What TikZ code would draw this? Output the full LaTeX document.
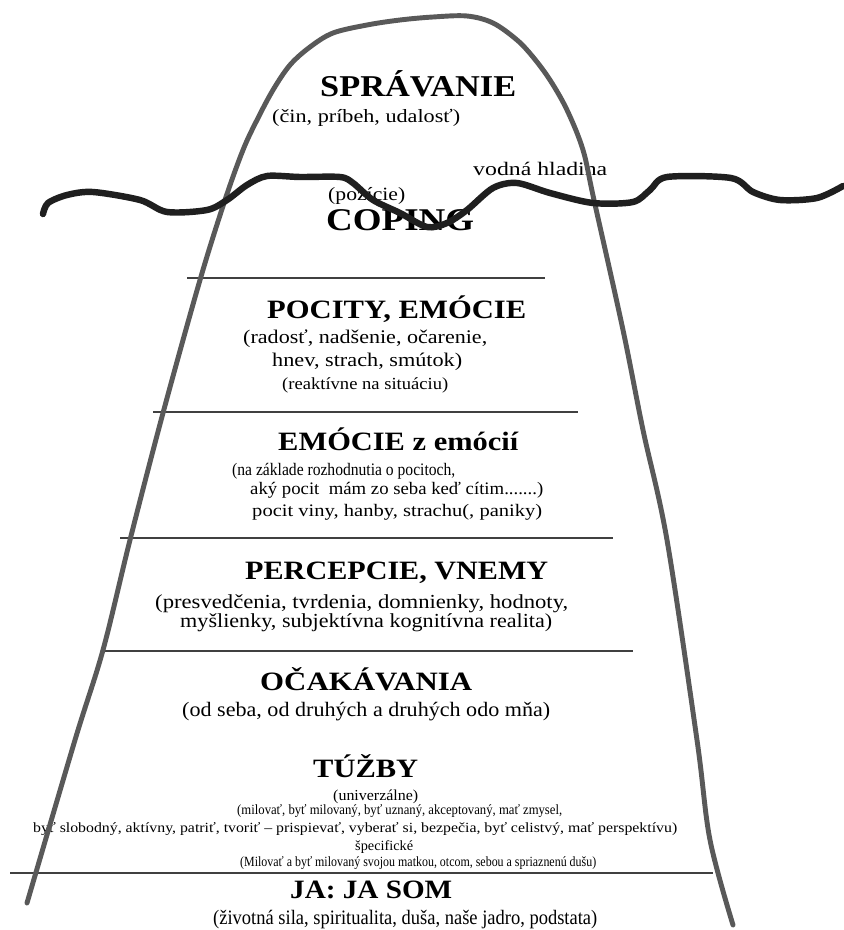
\documentclass[tikz,border=0pt]{standalone}
\usepackage{fontspec}
\setmainfont{Liberation Serif}
\usepackage{graphicx}
\newlength\pxu
\setlength\pxu{0.03cm}
% text natiahnuty na danu sirku (v px)
\newcommand{\fitw}[2]{\resizebox{#1\pxu}{\height}{#2}}

\begin{document}
\begin{tikzpicture}[x=0.03cm, y=-0.03cm,
    nadpis/.style={anchor=base west, inner sep=0pt, font=\bfseries\fontsize{22.6}{26}\selectfont},
    popis/.style={anchor=base west, inner sep=0pt, font=\fontsize{16.5}{19}\selectfont},
    drobne/.style={anchor=base west, inner sep=0pt, font=\fontsize{12}{14}\selectfont},
    vrstva/.style={line width=1.4pt, draw=black!75},
    ladovec/.style={line width=4.2pt, draw=black!65, line join=round, line cap=round},
    voda/.style={line width=5.5pt, draw=black!88, line join=round, line cap=round}]
    \fill[white] (0,0) rectangle (843,930);
    \useasboundingbox (0,0) rectangle (843,930);

    % Nad hladinou
    \node[nadpis, font=\bfseries\fontsize{25.8}{30}\selectfont] (sprav) at (320,97) {\fitw{196}{SPRÁVANIE}};
    \node[popis, font=\fontsize{16}{19}\selectfont] (sprav1) at (272,122.5) {\fitw{188}{(čin, príbeh, udalosť)}};
    \node[popis, font=\fontsize{16.3}{19}\selectfont] (hladina) at (473,175) {\fitw{134}{vodná hladina}};
    \node[popis, font=\fontsize{16}{19}\selectfont] (pozicie) at (328,200) {\fitw{77}{(pozície)}};
    \node[nadpis, font=\bfseries\fontsize{27}{31}\selectfont] (coping) at (326,230) {\fitw{148}{COPING}};

    % Pocity
    \node[nadpis] (pocity) at (267,318) {\fitw{259}{POCITY, EMÓCIE}};
    \node[popis] (pocity1) at (243,343.5) {\fitw{244}{(radosť, nadšenie, očarenie,}};
    \node[popis] (pocity2) at (272,366) {\fitw{190}{hnev, strach, smútok)}};
    \node[popis, font=\fontsize{14.5}{17}\selectfont] (pocity3) at (282,389) {\fitw{166}{(reaktívne na situáciu)}};

    % Emocie z emocii
    \node[nadpis] (emzem) at (278,450) {\fitw{240}{EMÓCIE z emócií}};
    \node[popis, font=\fontsize{15}{18}\selectfont] (emzem1) at (232,475) {\fitw{223}{(na základe rozhodnutia o pocitoch,}};
    \node[popis, font=\fontsize{15}{18}\selectfont] (emzem2) at (250,494) {\fitw{293}{aký pocit~~mám zo seba keď cítim.......)}};
    \node[popis, font=\fontsize{15}{18}\selectfont] (emzem3) at (252,516) {\fitw{290}{pocit viny, hanby, strachu(, paniky)}};

    % Percepcie
    \node[nadpis] (percep) at (245,579) {\fitw{303}{PERCEPCIE, VNEMY}};
    \node[popis, font=\fontsize{17}{20}\selectfont] (percep1) at (155,608) {\fitw{413}{(presvedčenia, tvrdenia, domnienky, hodnoty,}};
    \node[popis, font=\fontsize{17}{20}\selectfont] (percep2) at (180,627) {\fitw{372}{myšlienky, subjektívna kognitívna realita)}};

    % Ocakavania
    \node[nadpis] (ocak) at (260,690) {\fitw{212}{OČAKÁVANIA}};
    \node[popis, font=\fontsize{17.5}{20}\selectfont] (ocak1) at (182,716) {\fitw{368}{(od seba, od druhých a druhých odo mňa)}};

    % Tuzby
    \node[nadpis] (tuzby) at (313,777) {\fitw{105}{TÚŽBY}};
    \node[drobne, font=\fontsize{13}{15}\selectfont] (tuzby1) at (333,800) {\fitw{85}{(univerzálne)}};
    \node[drobne] (tuzby2) at (237,814) {\fitw{325}{(milovať, byť milovaný, byť uznaný, akceptovaný, mať zmysel,}};
    \node[drobne] (tuzby3) at (33,832) {\fitw{644}{byť slobodný, aktívny, patriť, tvoriť – prispievať, vyberať si, bezpečia, byť celistvý, mať perspektívu)}};
    \node[drobne] (tuzby4) at (355,850) {\fitw{58}{špecifické}};
    \node[drobne] (tuzby5) at (240,866) {\fitw{356}{(Milovať a byť milovaný svojou matkou, otcom, sebou a spriaznenú dušu)}};

    % Ja
    \node[nadpis] (ja) at (290,898) {\fitw{162}{JA: JA SOM}};
    \node[popis, font=\fontsize{17.5}{20}\selectfont] (ja1) at (213,924) {\fitw{384}{(životná sila, spiritualita, duša, naše jadro, podstata)}};

    % Deliace ciary
    \draw[vrstva] (187,278) -- (545,278);
    \draw[vrstva] (153,412) -- (578,412);
    \draw[vrstva] (120,538) -- (613,538);
    \draw[vrstva] (103,651) -- (633,651);
    \draw[vrstva] (10,873) -- (713,873);

    % Obrys ladovca
    \draw[ladovec] plot[smooth, tension=0.55] coordinates {(27,903) (75,740) (103,650) (130,540)
        (163,413) (200,280) (225,200) (243,150) (257,120) (273,90) (290,65) (310,47) (333,33)
        (367,25) (400,20) (433,17) (467,16) (493,23) (517,40) (533,57) (550,80) (567,110)
        (583,150) (594,200) (623,330) (643,430) (667,540) (697,740) (710,840) (733,925)};

    % Vodna hladina
    \draw[voda] plot[smooth, tension=0.5] coordinates {(43,214) (48,203) (67,195) (93,192)
        (140,200) (167,212) (207,210) (227,200) (247,185) (267,176) (300,177) (340,177)
        (353,183) (373,200) (400,213) (427,227) (447,223) (467,210) (493,188) (517,183)
        (550,193) (593,203) (633,202) (650,190) (667,177) (731,178) (753,192) (780,200)
        (817,198) (843,186)};
\end{tikzpicture}
\end{document}
